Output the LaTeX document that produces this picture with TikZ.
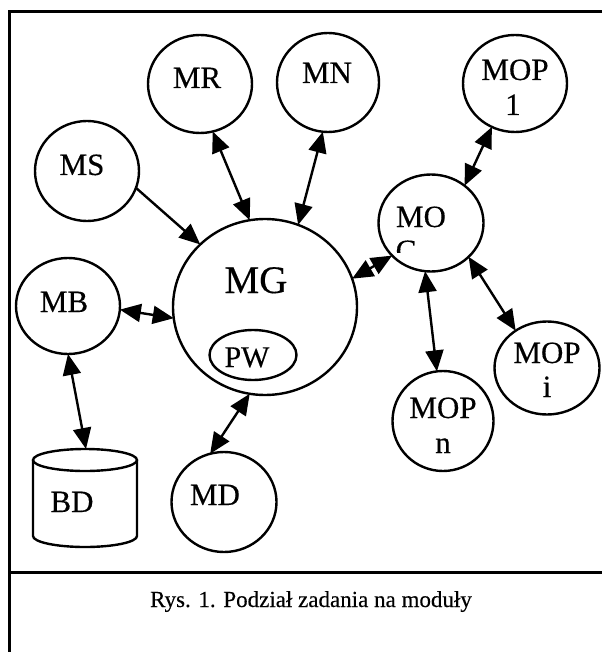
\documentclass[tikz,border=0pt]{standalone}
\usepackage{fontspec}
\setmainfont{Liberation Serif}[FakeBold=0.35]
\usetikzlibrary{shapes.geometric,arrows.meta}
\tikzset{
  mod/.style={draw, ellipse, line width=2.4pt, inner sep=0pt, outer sep=0pt},
  txt/.style={anchor=base, inner sep=0pt, font=\fontsize{31}{36}\selectfont},
  bigtxt/.style={anchor=base, inner sep=0pt, font=\fontsize{39}{44}\selectfont},
  pwtxt/.style={anchor=base, inner sep=0pt, font=\fontsize{30}{34}\selectfont},
  captxt/.style={anchor=base, inner sep=0pt, font=\fontsize{23}{27}\selectfont},
  frame/.style={line width=3pt},
  arr/.style={line width=2.4pt, -{Triangle[length=21pt,width=18pt]}},
  darr/.style={line width=2.4pt, {Triangle[length=21pt,width=18pt]}-{Triangle[length=21pt,width=18pt]}},
}
\begin{document}
\begin{tikzpicture}[x=1pt,y=-1pt]
\useasboundingbox (0,0) rectangle (602,652);
% frame
\draw[frame] (602,12) -- (9,12) -- (9,652);
\draw[frame] (9,572) -- (602,572);

% module shapes
\node[mod, minimum width=104pt, minimum height=100pt] (ms)   at (87,171) {};
\node[mod, minimum width=104pt, minimum height=98pt]  (mr)   at (200,84) {};
\node[mod, minimum width=102pt, minimum height=99pt]  (mn)   at (328,82.5) {};
\node[mod, minimum width=104pt, minimum height=97pt]  (mop1) at (515,83.5) {};
\node[mod, minimum width=105pt, minimum height=97pt]  (moc)  at (431,223) {};
\node[mod, minimum width=184pt, minimum height=176pt] (mg)   at (265,307) {};
\node[mod, minimum width=87pt,  minimum height=50pt]  (pw)   at (253,355) {};
\node[mod, minimum width=104pt, minimum height=96pt]  (mb)   at (68,306) {};
\node[mod, minimum width=105pt, minimum height=100pt] (md)   at (224,502) {};
\node[mod, minimum width=101pt, minimum height=100pt] (mopn) at (443,421) {};
\node[mod, minimum width=105pt, minimum height=93pt]  (mopi) at (547,368) {};

% database cylinder
\draw[line width=2.4pt] (85,460) ellipse [x radius=52, y radius=11];
\draw[line width=2.4pt] (33,460) -- (33,536) arc[start angle=180, end angle=0, x radius=52, y radius=11] -- (137,460);
\coordinate (bdtop) at (86,449);

% texts
\node[txt] (ms-t) at (82,175) {MS};
\node[txt] (mr-t) at (197,88) {MR};
\node[txt] (mn-t) at (327,83) {MN};
\node[txt] (mop1-a) at (515,80) {MOP};
\node[txt] (mop1-b) at (513,115) {1};
\node[txt] (moc-t) at (421,227) {MO};
\begin{scope}
  \clip (390,232) rectangle (425,252);
  \node[txt] (moc-c) at (406,261) {C};
\end{scope}
\node[bigtxt] (mg-t) at (256,293) {MG};
\node[pwtxt] (pw-t) at (247,367) {PW};
\node[txt] (mb-t) at (64,312) {MB};
\node[txt] (bd-t) at (72,512) {BD};
\node[txt] (md-t) at (215,505) {MD};
\node[txt] (mopn-a) at (443,418) {MOP};
\node[txt] (mopn-b) at (443,453) {n};
\node[txt] (mopi-a) at (547,363) {MOP};
\node[txt] (mopi-b) at (547,397) {i};

% caption
\node[captxt] (cap) at (311,607) {Rys. 1. Podział zadania na moduły};

% connectors
\draw[arr]  (ms.-19)   -- (mg.136);
\draw[darr] (mr.-75)   -- (mg.100);
\draw[darr] (mn.-96)   -- (mg.68);
\draw[darr] (mop1.-118) -- (moc.48);
\draw[darr] (mg.18)    -- (moc.-140);
\draw[darr] (mb.-4)    -- (mg.-173);
\draw[darr] (mb.-90)   -- (bdtop);
\draw[darr] (mg.-100)  -- (md.106);
\draw[darr] (moc.-97)  -- (mopn.97);
\draw[darr] (moc.-42)  -- (mopi.130);
\end{tikzpicture}
\end{document}
